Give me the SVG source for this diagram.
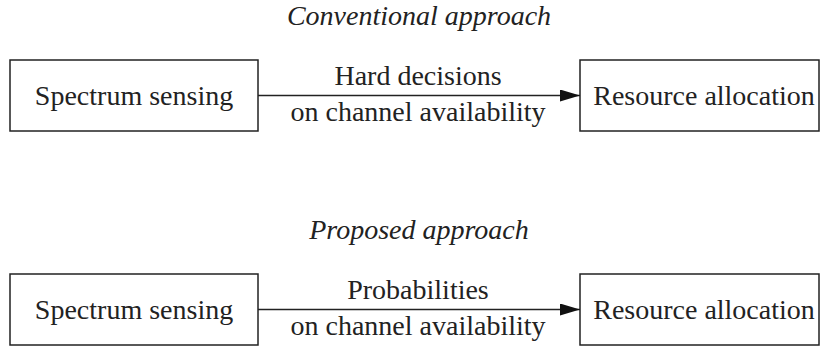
<svg xmlns="http://www.w3.org/2000/svg" width="820" height="350" viewBox="0 0 820 350">
<defs>
<style>
.box{fill:#fff;stroke:#222;stroke-width:1.5}
.t{font-size:28px;fill:#222;text-anchor:middle}
.h{font-style:italic}
.c{stroke:#222;stroke-width:1.3;fill:none}
</style>
<marker id="arr" viewBox="0 0 20 12" refX="20" refY="6" markerWidth="20" markerHeight="12" markerUnits="userSpaceOnUse" orient="auto">
<path d="M0,0 L20,6 L0,12 Z" fill="#111"/>
</marker>
</defs>
<rect width="820" height="350" fill="#fff"/>
<g font-family="Liberation Serif, Times New Roman, serif">
<text class="t h" x="419" y="25">Conventional approach</text>
<text class="t h" x="419" y="239">Proposed approach</text>
<g id="n1"><rect class="box" x="10" y="60" width="248" height="71"/><text class="t" x="134" y="105">Spectrum sensing</text></g>
<g id="n2"><rect class="box" x="580" y="60" width="239" height="71"/><text class="t" x="704" y="105">Resource allocation</text></g>
<g id="n3"><rect class="box" x="10" y="274" width="248" height="71"/><text class="t" x="134" y="319">Spectrum sensing</text></g>
<g id="n4"><rect class="box" x="580" y="274" width="239" height="71"/><text class="t" x="704" y="319">Resource allocation</text></g>
<g id="edges">
<line class="c" x1="258" y1="95.5" x2="580" y2="95.5" marker-end="url(#arr)"/>
<text class="t" x="418" y="85">Hard decisions</text>
<text class="t" x="418" y="121">on channel availability</text>
<line class="c" x1="258" y1="309.5" x2="580" y2="309.5" marker-end="url(#arr)"/>
<text class="t" x="418" y="299">Probabilities</text>
<text class="t" x="418" y="335">on channel availability</text>
</g>
</g>
</svg>
